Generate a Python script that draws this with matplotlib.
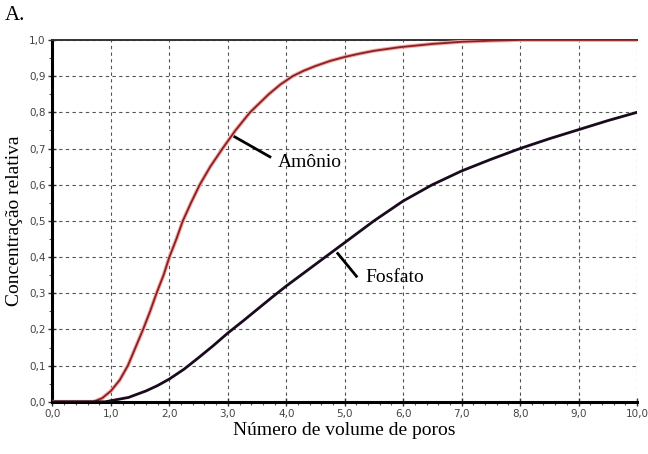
import matplotlib.pyplot as plt
from matplotlib.ticker import MultipleLocator, FuncFormatter

vp_amonio = [0.0, 0.5, 0.7, 0.85, 1.0, 1.15, 1.29, 1.42, 1.55, 1.67, 1.78, 1.9, 2.0, 2.12,
             2.23, 2.37, 2.52, 2.7, 2.91, 3.13, 3.38, 3.7, 3.9, 4.11, 4.3, 4.5, 4.75, 5.0,
             5.25, 5.5, 5.94, 6.5, 7.0, 7.5, 8.0, 9.0, 10.0]
c_amonio = [0.0, 0.0, 0.0, 0.01, 0.03, 0.06, 0.10, 0.15, 0.20, 0.25, 0.30, 0.35, 0.40, 0.45,
            0.50, 0.55, 0.60, 0.65, 0.70, 0.75, 0.80, 0.85, 0.877, 0.90, 0.915, 0.928, 0.942, 0.953,
            0.962, 0.97, 0.98, 0.989, 0.995, 0.998, 1.0, 1.0, 1.0]

vp_fosfato = [0.0, 0.5, 0.9, 1.0, 1.3, 1.6, 1.8, 2.0, 2.25, 2.5, 2.75, 3.0, 3.25, 3.5, 3.75,
              4.0, 4.5, 5.0, 5.5, 6.0, 6.5, 7.0, 7.5, 8.0, 8.5, 9.0, 9.5, 10.0]
c_fosfato = [0.0, 0.0, 0.0, 0.003, 0.012, 0.03, 0.045, 0.063, 0.09, 0.122, 0.155, 0.19, 0.222,
             0.255, 0.288, 0.32, 0.38, 0.44, 0.50, 0.555, 0.60, 0.638, 0.67, 0.70, 0.727, 0.752,
             0.777, 0.80]

x_ticks = [0, 1, 2, 3, 4, 5, 6, 7, 8, 9, 10]
y_ticks = [0.0, 0.1, 0.2, 0.3, 0.4, 0.5, 0.6, 0.7, 0.8, 0.9, 1.0]


def virgula(v, pos):
    return f"{v:.1f}".replace(".", ",")


fig = plt.figure(figsize=(6.48, 4.54), dpi=100)
ax = fig.add_axes([0.081, 0.115, 0.902, 0.797])

ax.set_xlim(0, 10)
ax.set_ylim(0, 1.0)

# grade tracejada
ax.set_xticks(x_ticks)
ax.set_yticks(y_ticks)
ax.grid(True, which="major", color="#555555", linestyle=(0, (3, 3)), linewidth=0.8)
ax.set_axisbelow(True)

ax.plot(vp_amonio, c_amonio, color="#f0a8a8", linewidth=2.8, solid_capstyle="butt", zorder=3)
ax.plot(vp_amonio, c_amonio, color="#8a2020", linewidth=1.3, zorder=4)
ax.plot(vp_fosfato, c_fosfato, color="#1a0a1e", linewidth=2.0, zorder=5)

# eixos
for side in ["left", "bottom"]:
    ax.spines[side].set_linewidth(2.2)
    ax.spines[side].set_color("black")
ax.spines["top"].set_linewidth(1.4)
ax.spines["top"].set_color("#333333")
ax.spines["right"].set_visible(False)

ax.xaxis.set_minor_locator(MultipleLocator(0.2))
ax.yaxis.set_minor_locator(MultipleLocator(0.05))
ax.xaxis.set_major_formatter(FuncFormatter(virgula))
ax.yaxis.set_major_formatter(FuncFormatter(virgula))
ax.tick_params(which="major", direction="inout", length=6, width=1.0, color="#333333",
               labelsize=7.5, labelcolor="#444444", pad=2)
ax.tick_params(which="minor", direction="out", length=2.5, width=0.8, color="#555555")

serif = ["Liberation Serif", "DejaVu Serif"]
ax.set_xlabel("Número de volume de poros", fontsize=14, family=serif, labelpad=2)
ax.set_ylabel("Concentração relativa", fontsize=14, family=serif, labelpad=4)

# rótulos das curvas
ax.plot([3.12, 3.72], [0.732, 0.677], color="black", linewidth=2.0, zorder=6)
ax.text(3.85, 0.66, "Amônio", fontsize=14, family=serif, va="center", ha="left")
ax.plot([4.88, 5.2], [0.41, 0.347], color="black", linewidth=2.0, zorder=6)
ax.text(5.35, 0.343, "Fosfato", fontsize=14, family=serif, va="center", ha="left")

fig.text(0.008, 0.965, "A.", fontsize=15, family=serif, va="center", ha="left")

fig.savefig("out.png", dpi=100)
